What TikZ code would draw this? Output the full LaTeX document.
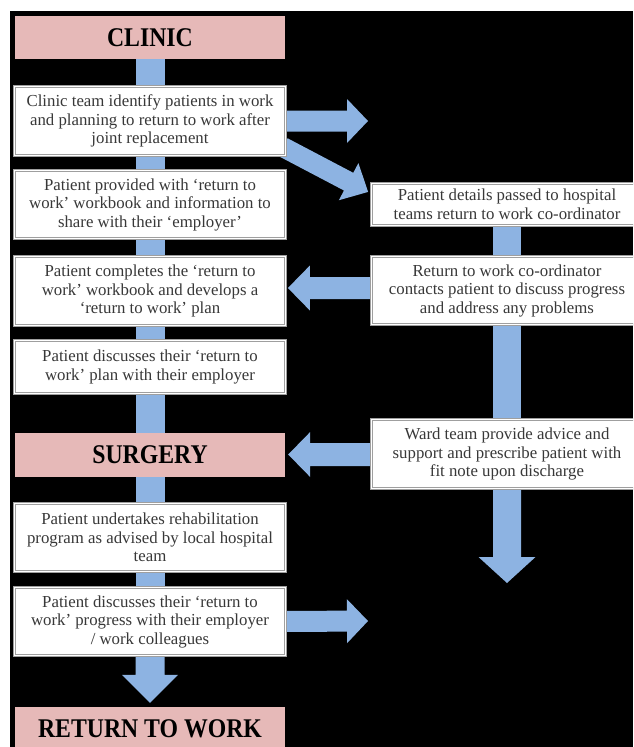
\documentclass[tikz,border=0pt]{standalone}
\usepackage{fontspec}
\setmainfont{Liberation Serif}
\newfontfamily\titlefont[FakeStretch=0.88]{Liberation Serif}
\usetikzlibrary{calc}
\definecolor{pinkc}{HTML}{E6B9B8}
\definecolor{bluec}{HTML}{8DB3E2}
\definecolor{txtgray}{HTML}{383838}
\pgfdeclarelayer{bgzero}
\pgfdeclarelayer{bgone}
\pgfsetlayers{bgzero,bgone,main}
% #1 start, #2 tip, #3 half body width, #4 half head width, #5 head length
\newcommand{\blockarrow}[5]{%
  \coordinate (ba-s) at #1;
  \coordinate (ba-e) at #2;
  \coordinate (ba-h) at ($(ba-e)!#5!(ba-s)$);
  \fill[bluec] ($(ba-s)!#3!90:(ba-e)$) -- ($(ba-h)!#3!-90:(ba-s)$) -- ($(ba-h)!#4!-90:(ba-s)$)
     -- (ba-e) -- ($(ba-h)!#4!90:(ba-s)$) -- ($(ba-h)!#3!90:(ba-s)$) -- ($(ba-s)!#3!-90:(ba-e)$) -- cycle;}
\begin{document}
\begin{tikzpicture}[x=1pt,y=-1pt,
  wbox/.style={draw=gray!75, double=white, double distance=0.9pt, line width=0.8pt,
    fill=white, minimum width=271pt, minimum height=#1, inner sep=0pt, align=center,
    text=txtgray, font=\fontsize{16.8}{18.5}\selectfont},
  pbox/.style={fill=pinkc, minimum width=270pt, minimum height=#1, inner sep=0pt,
    text=black, font=\titlefont\bfseries\fontsize{27}{30}\selectfont},
  bar/.style={fill=bluec}]
\useasboundingbox (0,0) rectangle (633,747);
\clip (0,0) rectangle (633,747);
\begin{pgfonlayer}{bgzero}
\fill[white] (0,0) rectangle (633,747);
\fill[black] (10,11) rectangle (633,747);
\end{pgfonlayer}

% left column
\node[pbox=43pt] (clinic) at (150,37.5) {CLINIC};
\node[wbox=69.4pt] (c1) at (150,121) {Clinic team identify patients in work\\and planning to return to work after\\joint replacement};
\node[wbox=68.4pt] (c2) at (150,204.5) {Patient provided with ‘return to\\work’ workbook and information to\\share with their ‘employer’};
\node[wbox=69.4pt] (c3) at (150,291) {Patient completes the ‘return to\\work’ workbook and develops a\\‘return to work’ plan};
\node[wbox=53.4pt] (c4) at (150,367) {Patient discusses their ‘return to\\work’ plan with their employer};
\node[pbox=44pt] (surgery) at (150,455) {SURGERY};
\node[wbox=68.4pt] (c5) at (150,537.5) {Patient undertakes rehabilitation\\program as advised by local hospital\\team};
\node[wbox=68.4pt] (c6) at (150,621.5) {Patient discusses their ‘return to\\work’ progress with their employer\\/ work colleagues};
\node[pbox=44pt] (rtw) at (150,729) {RETURN TO WORK};

% right column
\node[wbox=42.4pt] (r1) at (507,204.5) {Patient details passed to hospital\\teams return to work co-ordinator};
\node[wbox=68.4pt] (r2) at (507,290.5) {Return to work co-ordinator\\contacts patient to discuss progress\\and address any problems};
\node[wbox=69.4pt] (r3) at (507,454) {Ward team provide advice and\\support and prescribe patient with\\fit note upon discharge};

\coordinate (t1) at (368,121);
\coordinate (t5) at (507,583);
\coordinate (t6) at (368,621);

\begin{pgfonlayer}{bgone}
% connector bars, left column
\fill[bar] ($(clinic.south)+(-14.5,-4)$) rectangle ($(c1.north)+(14.5,1)$);
\fill[bar] ($(c1.south)+(-14.5,1)$) rectangle ($(c2.north)+(14.5,-1)$);
\fill[bar] ($(c2.south)+(-14.5,1)$) rectangle ($(c3.north)+(14.5,-1)$);
\fill[bar] ($(c3.south)+(-14.5,1)$) rectangle ($(c4.north)+(14.5,-1)$);
\fill[bar] ($(c4.south)+(-14.5,1)$) rectangle ($(surgery.north)+(14.5,4)$);
\fill[bar] ($(surgery.south)+(-14.5,0)$) rectangle ($(c5.north)+(14.5,-1)$);
\fill[bar] ($(c5.south)+(-14.5,1)$) rectangle ($(c6.north)+(14.5,-1)$);
% connector bars, right column
\fill[bar] ($(r1.south)+(-14,1)$) rectangle ($(r2.north)+(14,-1)$);
\fill[bar] ($(r2.south)+(-14,1)$) rectangle ($(r3.north)+(14,-1)$);
% block arrows
\blockarrow{($(c1.east)+(-3,0)$)}{(t1)}{10.5pt}{22pt}{21pt}
\blockarrow{($(c1.south east)+(-3,-9)$)}{($(r1.north west)+(-3,9)$)}{10pt}{21pt}{22pt}
\blockarrow{($(r2.west)+(3,-2.5)$)}{($(c3.east)+(2,-3)$)}{11pt}{22.5pt}{22pt}
\blockarrow{($(r3.west)+(3,0.5)$)}{($(surgery.east)+(3,-0.5)$)}{11.5pt}{22.5pt}{22pt}
\blockarrow{($(r3.south)+(0,-3)$)}{(t5)}{14pt}{28.5pt}{26pt}
\blockarrow{($(c6.east)+(-3,0)$)}{(t6)}{10.5pt}{22pt}{21pt}
\blockarrow{($(c6.south)+(0,-3)$)}{($(rtw.north)+(0,-4)$)}{14.5pt}{28pt}{28pt}
\end{pgfonlayer}
\end{tikzpicture}
\end{document}
